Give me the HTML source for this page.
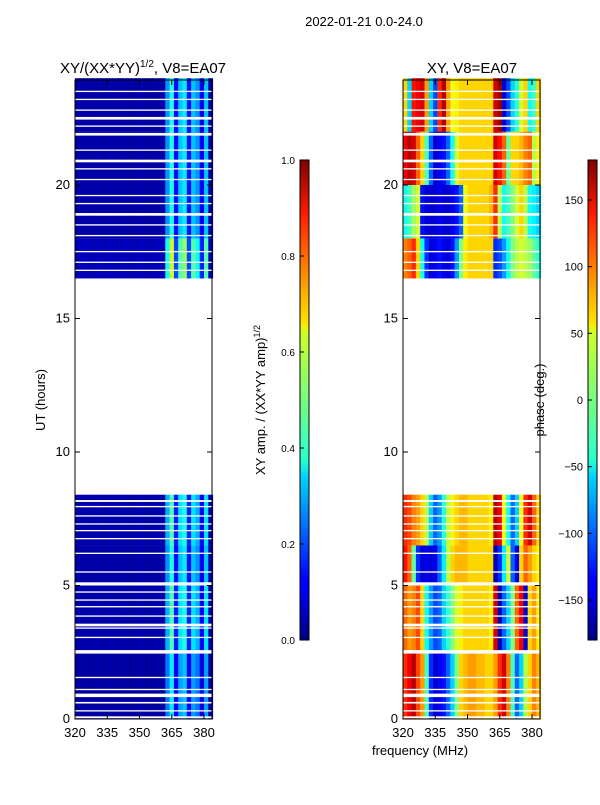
<!DOCTYPE html>
<html><head><meta charset="utf-8"><style>
body{margin:0;background:#fff;font-family:"Liberation Sans",sans-serif}
svg text{font-family:"Liberation Sans",sans-serif;fill:#000}
</style></head><body>
<svg id="fig" width="600" height="800" xmlns="http://www.w3.org/2000/svg">
<defs>
<linearGradient id="jet" x1="0" y1="1" x2="0" y2="0">
<stop offset="0" stop-color="#00007f"/><stop offset="0.11" stop-color="#0000ff"/><stop offset="0.125" stop-color="#0000ff"/><stop offset="0.34" stop-color="#00d4ff"/><stop offset="0.375" stop-color="#29ffce"/><stop offset="0.64" stop-color="#ceff29"/><stop offset="0.66" stop-color="#ffe500"/><stop offset="0.89" stop-color="#ff1a00"/><stop offset="1" stop-color="#7f0000"/>
</linearGradient>
</defs>
<text x="364" y="26" font-size="13" text-anchor="middle">2022-01-21 0.0-24.0</text>
<g id="left"></g>
<g id="right"></g>
<text x="143" y="73" font-size="15" text-anchor="middle">XY/(XX*YY)<tspan font-size="10" dy="-6">1/2</tspan><tspan dy="6">, V8=EA07</tspan></text>
<text x="472" y="73" font-size="15" text-anchor="middle">XY, V8=EA07</text>
<text transform="translate(45,400) rotate(-90)" font-size="13" text-anchor="middle">UT (hours)</text>
<text x="420" y="755" font-size="13" text-anchor="middle">frequency (MHz)</text>
<text transform="translate(265,400) rotate(-90)" font-size="13" text-anchor="middle">XY amp. / (XX*YY amp)<tspan font-size="9" dy="-5">1/2</tspan></text>
<text transform="translate(544,400) rotate(-90)" font-size="13" text-anchor="middle">phase (deg.)</text>
<rect x="300" y="160" width="9" height="480" fill="url(#jet)" stroke="#000"/>
<rect x="588" y="160" width="9" height="480" fill="url(#jet)" stroke="#000"/>
<g id="cb"></g>
</svg>
<script>
const freqStart=[320,322,324,326,328,330,332,334,336,338,340,342,344,346,348,350,352,354,356,358,360,362,364,366,368,370,372,374,376,378,380,382];
const ampProfile=[0.04,0.04,0.05,0.04,0.04,0.05,0.04,0.04,0.05,0.04,0.04,0.05,0.04,0.04,0.04,0.05,0.04,0.04,0.04,0.05,0.04,0.3,0.45,0.15,0.35,0.4,0.15,0.35,0.3,0.12,0.35,0.05];
const blocks=[[0,2.5,0],[2.5,5,1],[5,6.5,2],[6.5,8.4,3],[16.5,18,4],[18,20,5],[20,22,6],[22,24,7]];
const ampScale=[0.8,1.0,0.9,1.0,1.3,0.9,0.9,0.9];
const phaseA=[120,140,160,110,80,-20,-120,-150,-140,-130,-100,-60,0,60,70,80,80,70,70,60,60,80,120,150,90,-20,-100,-60,20,60,90,70];
const phaseB=[100,80,90,110,60,-40,-80,-110,-100,-60,-30,0,30,50,60,60,60,60,60,60,50,150,-160,-100,-60,0,100,140,-150,60,80,50];
const phaseC=[130,100,-10,-120,-150,-140,-150,-140,-100,-50,20,60,70,70,70,60,60,60,60,60,60,-160,-120,-50,30,-100,-140,60,100,80,60,50];
const phaseD=[120,110,90,80,60,20,-60,-100,-80,-30,20,50,60,70,70,60,60,60,60,60,50,160,140,40,-40,-100,-60,40,120,150,100,60];
const phaseE=[90,100,120,60,-40,-120,-150,-140,-130,-140,-150,-130,-80,0,50,60,60,60,60,60,60,-120,-110,-80,-40,0,20,30,20,10,-10,-30];
const phaseF=[-40,-20,10,30,-130,-150,-150,-150,-140,-150,-150,-140,-130,-100,40,60,60,60,60,60,70,120,20,-40,-20,0,30,60,20,-40,-50,-60];
const phaseG=[140,160,150,100,60,-20,-100,-150,-140,-130,-100,-40,30,60,60,60,60,60,60,60,60,150,130,100,-10,60,60,70,90,100,20,50];
const phaseH=[60,-60,130,140,150,80,-60,-110,120,160,80,40,50,60,60,60,60,60,60,60,60,150,170,-150,-110,-60,-30,30,60,-40,-20,60];
const phasePatterns=[phaseA,phaseB,phaseC,phaseD,phaseE,phaseF,phaseG,phaseH];
const gaps=[[0.03,0.1],[0.28,0.33],[0.58,0.64],[0.82,0.95],[1.08,1.13],[1.53,1.58],[2.45,2.58],[3.03,3.08],[3.38,3.43],[3.47,3.57],[3.83,3.88],[4.18,4.23],[4.43,4.48],[4.73,4.78],[5.0,5.12],[5.48,5.53],[6.18,6.23],[6.73,6.78],[7.03,7.08],[7.28,7.33],[7.58,7.63],[7.93,7.98],[8.13,8.2],
[16.78,16.83],[17.08,17.13],[17.48,17.53],[18.08,18.13],[18.48,18.53],[18.85,18.95],[19.28,19.33],[19.58,19.63],[20.18,20.23],[20.58,20.63],[20.85,20.95],[21.28,21.33],[21.85,21.95],[22.18,22.23],[22.45,22.55],[22.78,22.83],[23.18,23.23],[23.48,23.53]];
const yTicks=[0,5,10,15,20];
const xTicks=[320,335,350,365,380];
const ampTicks=[0,0.2,0.4,0.6,0.8,1.0];
const phaseTicks=[-150,-100,-50,0,50,100,150];

const NS="http://www.w3.org/2000/svg";
const Y0=719,PXH=(719-185)/20,X0S=[75,403],PXF=(204-75)/60;
function yS(h){return Y0-h*PXH}
function xS(f,p){return X0S[p]+(f-320)*PXF}
function jet(v){v=Math.max(0,Math.min(1,v));
 const r=Math.max(0,Math.min(1,1.5-Math.abs(4*v-3))),g=Math.max(0,Math.min(1,1.5-Math.abs(4*v-2))),b=Math.max(0,Math.min(1,1.5-Math.abs(4*v-1)));
 return `rgb(${Math.round(r*255)},${Math.round(g*255)},${Math.round(b*255)})`}
function mk(t,a,parent){const e=document.createElementNS(NS,t);for(const k in a)e.setAttribute(k,a[k]);parent.appendChild(e);return e}
const L=document.getElementById('left'),R=document.getElementById('right'),CB=document.getElementById('cb');
[L,R].forEach((g,p)=>{
 mk('rect',{x:X0S[p],y:80,width:137,height:639,fill:'#fff'},g);
 blocks.forEach((b,bi)=>{
  freqStart.forEach((f,c)=>{
   const v=p===0?ampProfile[c]*ampScale[bi]:(phasePatterns[b[2]][c]+180)/360;
   const r=mk('rect',{x:xS(f,p),y:yS(b[1]),width:PXF*2+0.5,height:(b[1]-b[0])*PXH,fill:jet(v)},g);
   
   
  });
 });
 gaps.forEach(gp=>{mk('rect',{x:X0S[p],y:yS(gp[1]),width:137,height:(gp[1]-gp[0])*PXH,fill:'#fff'},g)});
 mk('rect',{x:X0S[p],y:80,width:137,height:639,fill:'none',stroke:'#000','stroke-width':1},g);
 yTicks.forEach(t=>{const y=yS(t);
  mk('line',{x1:X0S[p],x2:X0S[p]+5,y1:y,y2:y,stroke:'#000'},g);
  mk('line',{x1:X0S[p]+137,x2:X0S[p]+132,y1:y,y2:y,stroke:'#000'},g);
  const tx=mk('text',{x:X0S[p]-5,y:y+4,'font-size':13,'text-anchor':'end'},g);tx.textContent=t;
  
  
 });
 xTicks.forEach(t=>{const x=xS(t,p);
  mk('line',{x1:x,x2:x,y1:719,y2:714,stroke:'#000'},g);
  mk('line',{x1:x,x2:x,y1:80,y2:85,stroke:'#000'},g);
  const tx=mk('text',{x:x,y:737,'font-size':13,'text-anchor':'middle'},g);tx.textContent=t;
  
  
 });
});
ampTicks.forEach(t=>{const y=640-t*480;
 mk('line',{x1:300,x2:304,y1:y,y2:y,stroke:'#000'},CB);
 const tx=mk('text',{x:295,y:y+4,'font-size':10,'text-anchor':'end'},CB);tx.textContent=t.toFixed(1);
 
 
});
phaseTicks.forEach(t=>{const y=400-t*480/360;
 mk('line',{x1:588,x2:592,y1:y,y2:y,stroke:'#000'},CB);
 const tx=mk('text',{x:583,y:y+4,'font-size':11,'text-anchor':'end'},CB);tx.textContent=t<0?'\u2212'+(-t):t;
 
 
});
</script>
</body></html>
